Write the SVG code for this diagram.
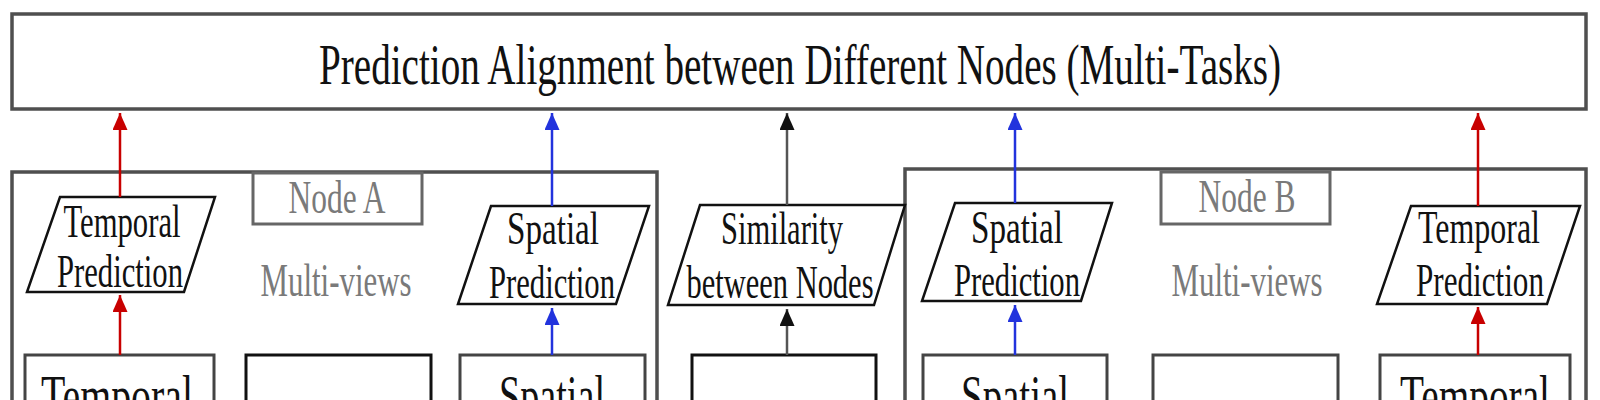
<svg xmlns="http://www.w3.org/2000/svg" width="1600" height="400" viewBox="0 0 1600 400">
<style>
  .frame{fill:#fff;stroke:#4f4f4f;stroke-width:3.5}
  .label{fill:#fff;stroke:#666;stroke-width:3}
  .para{fill:#fff;stroke:#111;stroke-width:2.5;stroke-linejoin:miter}
  .box{fill:#fff;stroke:#444;stroke-width:3}
  .boxk{fill:#fff;stroke:#111;stroke-width:3}
  text{font-family:"Liberation Serif","Times New Roman",serif;text-anchor:middle}
  .t{fill:#111;font-size:47px}
  .g{fill:#7a7a7a;font-size:47px}
  .big{fill:#111;font-size:56px}
  .title{fill:#111;font-size:57px}
  .red{stroke:#c80000;stroke-width:2.5;fill:none}
  .blue{stroke:#2233dd;stroke-width:2.5;fill:none}
  .blk{stroke:#555;stroke-width:2.5;fill:none}
</style>
<defs>
  <marker id="ar" markerUnits="userSpaceOnUse" markerWidth="17" markerHeight="15" refX="17" refY="7.5" orient="auto"><path d="M0,0 L17,7.5 L0,15 z" fill="#c80000"/></marker>
  <marker id="ab" markerUnits="userSpaceOnUse" markerWidth="17" markerHeight="15" refX="17" refY="7.5" orient="auto"><path d="M0,0 L17,7.5 L0,15 z" fill="#2233dd"/></marker>
  <marker id="ak" markerUnits="userSpaceOnUse" markerWidth="17" markerHeight="15" refX="17" refY="7.5" orient="auto"><path d="M0,0 L17,7.5 L0,15 z" fill="#111"/></marker>
</defs>
<rect width="1600" height="400" fill="#fff"/>

<g id="alignment">
  <rect class="frame" x="12" y="14" width="1574" height="95"/>
  <text class="title" x="800" y="84" textLength="962" lengthAdjust="spacingAndGlyphs">Prediction Alignment between Different Nodes (Multi-Tasks)</text>
</g>

<g id="nodeA">
  <rect class="frame" x="12" y="172" width="645" height="260"/>
  <rect class="label" x="253" y="173" width="169" height="51"/>
  <text class="g" x="337" y="213" textLength="97" lengthAdjust="spacingAndGlyphs">Node A</text>
  <text class="g" x="336" y="296" textLength="151" lengthAdjust="spacingAndGlyphs">Multi-views</text>
</g>

<g id="nodeB">
  <rect class="frame" x="905" y="169" width="681" height="260"/>
  <rect class="label" x="1161" y="172" width="169" height="52"/>
  <text class="g" x="1247" y="212" textLength="97" lengthAdjust="spacingAndGlyphs">Node B</text>
  <text class="g" x="1247" y="296" textLength="151" lengthAdjust="spacingAndGlyphs">Multi-views</text>
</g>

<g id="A-temporal-prediction">
  <polygon class="para" points="60,197 215,197 184,292 27,292"/>
  <text class="t" x="122" y="237" textLength="117" lengthAdjust="spacingAndGlyphs">Temporal</text>
  <text class="t" x="120" y="287" textLength="126" lengthAdjust="spacingAndGlyphs">Prediction</text>
</g>

<g id="A-spatial-prediction">
  <polygon class="para" points="491,206 649,206 616,304 458,304"/>
  <text class="t" x="553" y="244" textLength="92" lengthAdjust="spacingAndGlyphs">Spatial</text>
  <text class="t" x="552" y="298" textLength="126" lengthAdjust="spacingAndGlyphs">Prediction</text>
</g>

<g id="similarity">
  <polygon class="para" points="700,205 905,205 874,305 668,305"/>
  <text class="t" x="782" y="244" textLength="122" lengthAdjust="spacingAndGlyphs">Similarity</text>
  <text class="t" x="780" y="298" textLength="187" lengthAdjust="spacingAndGlyphs">between Nodes</text>
</g>

<g id="B-spatial-prediction">
  <polygon class="para" points="955,203 1112,203 1081,301 922,301"/>
  <text class="t" x="1017" y="243" textLength="92" lengthAdjust="spacingAndGlyphs">Spatial</text>
  <text class="t" x="1017" y="296" textLength="126" lengthAdjust="spacingAndGlyphs">Prediction</text>
</g>

<g id="B-temporal-prediction">
  <polygon class="para" points="1411,206 1580,206 1547,304 1377,304"/>
  <text class="t" x="1479" y="243" textLength="122" lengthAdjust="spacingAndGlyphs">Temporal</text>
  <text class="t" x="1480" y="296" textLength="128" lengthAdjust="spacingAndGlyphs">Prediction</text>
</g>

<g id="A-temporal">
  <rect class="box" x="25" y="355" width="189" height="80"/>
  <text class="big" x="117" y="415" textLength="152" lengthAdjust="spacingAndGlyphs">Temporal</text>
</g>
<g id="A-views">
  <rect class="boxk" x="246" y="355" width="185" height="80"/>
</g>
<g id="A-spatial">
  <rect class="box" x="460" y="355" width="185" height="80"/>
  <text class="big" x="552" y="415" textLength="106" lengthAdjust="spacingAndGlyphs">Spatial</text>
</g>
<g id="shared">
  <rect class="boxk" x="692" y="355" width="184" height="80"/>
</g>
<g id="B-spatial">
  <rect class="box" x="923" y="355" width="184" height="80"/>
  <text class="big" x="1015" y="415" textLength="108" lengthAdjust="spacingAndGlyphs">Spatial</text>
</g>
<g id="B-views">
  <rect class="box" x="1153" y="355" width="185" height="80"/>
</g>
<g id="B-temporal">
  <rect class="box" x="1380" y="355" width="190" height="80"/>
  <text class="big" x="1475" y="415" textLength="150" lengthAdjust="spacingAndGlyphs">Temporal</text>
</g>

<g id="connectors">
  <line class="red" x1="120" y1="197" x2="120" y2="113" marker-end="url(#ar)"/>
  <line class="red" x1="120" y1="355" x2="120" y2="295" marker-end="url(#ar)"/>
  <line class="blue" x1="552" y1="206" x2="552" y2="113" marker-end="url(#ab)"/>
  <line class="blue" x1="552" y1="355" x2="552" y2="308" marker-end="url(#ab)"/>
  <line class="blk" x1="787" y1="205" x2="787" y2="113" marker-end="url(#ak)"/>
  <line class="blk" x1="787" y1="355" x2="787" y2="309" marker-end="url(#ak)"/>
  <line class="blue" x1="1015" y1="203" x2="1015" y2="113" marker-end="url(#ab)"/>
  <line class="blue" x1="1015" y1="355" x2="1015" y2="305" marker-end="url(#ab)"/>
  <line class="red" x1="1478" y1="206" x2="1478" y2="113" marker-end="url(#ar)"/>
  <line class="red" x1="1478" y1="355" x2="1478" y2="307" marker-end="url(#ar)"/>
</g>
</svg>
